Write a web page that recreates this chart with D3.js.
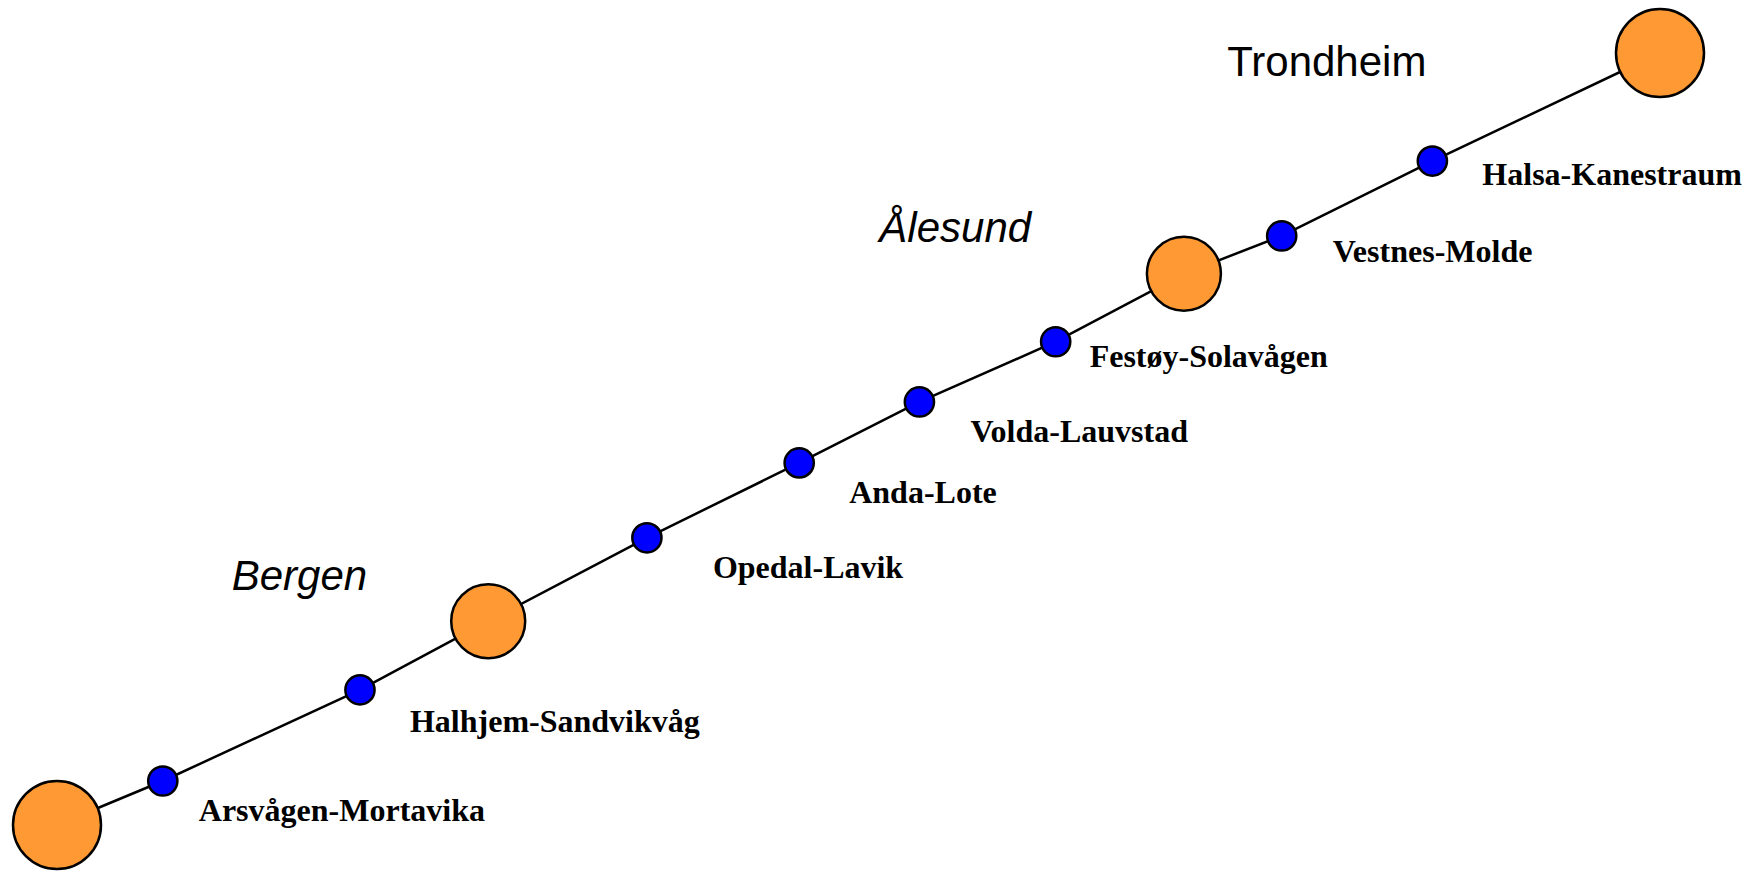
<!DOCTYPE html>
<html>
<head>
<meta charset="utf-8">
<script src="https://cdn.jsdelivr.net/npm/d3@7"></script>
<style>
  html, body { margin: 0; padding: 0; background: #fff; }
  svg { display: block; }
</style>
</head>
<body>
<div id="chart"></div>
<script>
// stops along the route, south to north (position in % of the route span)
const stopNames = ['Stavanger', 'Arsvågen-Mortavika', 'Halhjem-Sandvikvåg', 'Bergen',
   'Opedal-Lavik', 'Anda-Lote', 'Volda-Lauvstad', 'Festøy-Solavågen', 'Ålesund',
   'Vestnes-Molde', 'Halsa-Kanestraum', 'Trondheim'];
const stopKinds = ['end', 'ferry', 'ferry', 'city', 'ferry', 'ferry', 'ferry', 'ferry', 'city',
   'ferry', 'ferry', 'end'];
const stopX = [0, 6.6, 18.9, 26.9, 36.8, 46.3, 53.8, 62.3, 70.3, 76.4, 85.8, 100];
const stopY = [0, 5.7, 17.5, 26.4, 37.2, 46.9, 54.8, 62.6, 71.4, 76.3, 86.0, 100];

// ferry label offsets (px from the dot)
const labelDx = { 'Arsvågen-Mortavika': 36, 'Halhjem-Sandvikvåg': 50, 'Opedal-Lavik': 66,
   'Anda-Lote': 50, 'Volda-Lauvstad': 51, 'Festøy-Solavågen': 34, 'Vestnes-Molde': 51,
   'Halsa-Kanestraum': 50 };
const labelDy = { 'Arsvågen-Mortavika': 40, 'Halhjem-Sandvikvåg': 42, 'Opedal-Lavik': 40,
   'Anda-Lote': 40, 'Volda-Lauvstad': 40, 'Festøy-Solavågen': 25, 'Vestnes-Molde': 26,
   'Halsa-Kanestraum': 24 };

// city captions, position in the same % units
const cityNames = ['Bergen', 'Ålesund', 'Trondheim'];
const cityX = [10.9, 51.3, 73.0];
const cityY = [30.4, 75.5, 97.0];
const cityItalic = [true, true, false];

const width = 1760, height = 871;

const stops = stopNames.map((name, i) => ({ name, kind: stopKinds[i], x: stopX[i], y: stopY[i] }));
const cities = cityNames.map((name, i) => ({ name, x: cityX[i], y: cityY[i], italic: cityItalic[i] }));

const svg = d3.select('#chart').append('svg')
   .attr('width', width)
   .attr('height', height);

const x = d3.scaleLinear().domain([0, 100]).range([57, 1660]);
const y = d3.scaleLinear().domain([0, 100]).range([825, 53]);

const r = d3.scaleOrdinal()
   .domain(['end', 'city', 'ferry'])
   .range([44, 37, 14.6]);

const fill = d3.scaleOrdinal()
   .domain(['end', 'city', 'ferry'])
   .range(['#ff9933', '#ff9933', '#0000ff']);

const line = d3.line().x(d => x(d.x)).y(d => y(d.y));

svg.append('path')
   .datum(stops)
   .attr('d', line)
   .attr('fill', 'none')
   .attr('stroke', '#000')
   .attr('stroke-width', 2.5);

svg.selectAll('circle.stop')
   .data(stops)
   .enter()
   .append('circle')
      .attr('class', 'stop')
      .attr('cx', d => x(d.x))
      .attr('cy', d => y(d.y))
      .attr('r', d => r(d.kind))
      .attr('fill', d => fill(d.kind))
      .attr('stroke', '#000')
      .attr('stroke-width', 2.5);

svg.selectAll('text.ferry')
   .data(stops.filter(d => d.kind === 'ferry'))
   .enter()
   .append('text')
      .attr('class', 'ferry')
      .attr('x', d => x(d.x) + labelDx[d.name])
      .attr('y', d => y(d.y) + labelDy[d.name])
      .attr('font-family', '"Liberation Serif", "Times New Roman", serif')
      .attr('font-weight', 'bold')
      .attr('font-size', '32px')
      .attr('fill', '#000')
      .text(d => d.name);

svg.selectAll('text.city')
   .data(cities)
   .enter()
   .append('text')
      .attr('class', 'city')
      .attr('x', d => x(d.x))
      .attr('y', d => y(d.y))
      .attr('font-family', '"Liberation Sans", Arial, sans-serif')
      .attr('font-style', d => d.italic ? 'italic' : 'normal')
      .attr('font-size', '42px')
      .attr('fill', '#000')
      .text(d => d.name);
</script>
</body>
</html>
